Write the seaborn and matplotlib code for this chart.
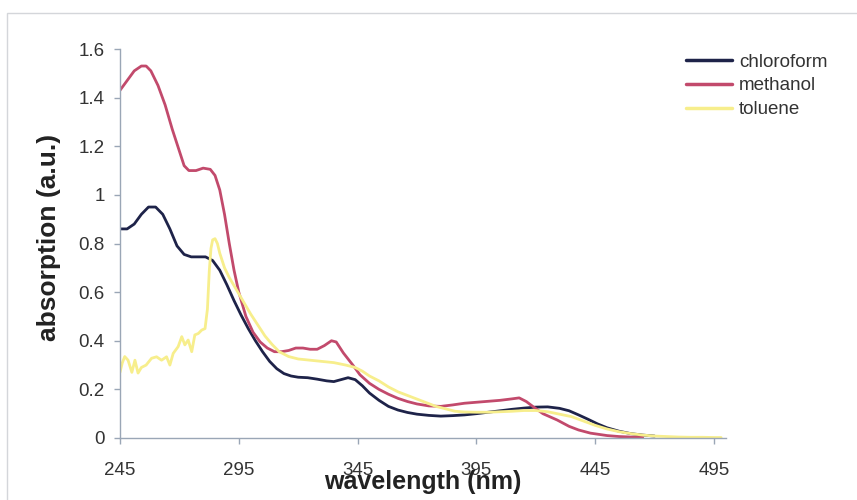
import matplotlib
matplotlib.use("Agg")
import matplotlib.pyplot as plt
from matplotlib.patches import Rectangle
import numpy as np
import pandas as pd
import seaborn as sns

# Absorption spectra of the dye in three solvents
chloroform_wl = [245, 248, 251, 254, 257, 260, 263, 266, 269, 272, 275, 278, 281, 284,
                 287, 290, 293, 296, 299, 302, 305, 308, 311, 314, 317, 320, 324, 328,
                 332, 335, 338, 341, 344, 347, 350, 354, 358, 362, 366, 370, 375, 380,
                 385, 390, 395, 400, 405, 410, 415, 420, 425, 430, 434, 438, 442, 446,
                 450, 455, 460, 465, 470]
chloroform_abs = [0.86, 0.86, 0.88, 0.92, 0.95, 0.95, 0.92, 0.86, 0.79, 0.755, 0.745, 0.745,
                  0.745, 0.73, 0.69, 0.63, 0.565, 0.505, 0.45, 0.40, 0.355, 0.315, 0.285,
                  0.265, 0.255, 0.25, 0.248, 0.242, 0.235, 0.232, 0.24, 0.248, 0.24, 0.215,
                  0.185, 0.155, 0.13, 0.115, 0.105, 0.098, 0.093, 0.09, 0.092, 0.095, 0.10,
                  0.106, 0.112, 0.118, 0.123, 0.127, 0.128, 0.122, 0.112, 0.095, 0.077,
                  0.058, 0.042, 0.028, 0.018, 0.012, 0.008]

methanol_wl = [245, 248, 251, 254, 256, 258, 261, 264, 267, 270, 272, 274, 277, 280, 283,
               285, 287, 289, 291, 293, 295, 298, 301, 304, 307, 310, 313, 316, 319, 322,
               325, 328, 331, 334, 336, 339, 343, 346, 350, 354, 358, 362, 366, 370, 375,
               380, 385, 390, 395, 400, 405, 410, 413, 416, 419, 423, 429, 434, 438, 443,
               450, 455, 460, 465]
methanol_abs = [1.43, 1.47, 1.51, 1.53, 1.53, 1.51, 1.45, 1.37, 1.27, 1.18, 1.12, 1.10,
                1.10, 1.11, 1.105, 1.08, 1.02, 0.92, 0.80, 0.69, 0.60, 0.50, 0.435, 0.395,
                0.37, 0.355, 0.355, 0.36, 0.37, 0.37, 0.365, 0.365, 0.38, 0.40, 0.395,
                0.35, 0.30, 0.26, 0.225, 0.20, 0.18, 0.163, 0.15, 0.14, 0.132, 0.13, 0.136,
                0.143, 0.147, 0.151, 0.155, 0.161, 0.165, 0.15, 0.128, 0.10, 0.074, 0.048,
                0.033, 0.02, 0.01, 0.006, 0.004, 0.003]

toluene_wl = [245, 246, 247, 248.4, 250, 251.3, 252.6, 254, 256, 258.3, 260.4, 262.5,
              264.6, 266, 267.4, 269.5, 271, 272.3, 273.7, 275.2, 276.5, 278, 279.4, 280.8,
              281.8, 282.6, 283.3, 284, 285, 286, 287, 289, 291, 294, 297, 300, 303, 306,
              309, 312, 316, 320, 325, 330, 335, 340, 344, 347, 350, 354, 358, 362, 366,
              370, 374, 378, 382, 386, 390, 395, 400, 405, 410, 415, 420, 425, 430, 435,
              440, 445, 450, 455, 460, 465, 470, 475, 480, 485, 490, 495, 498]
toluene_abs = [0.27, 0.31, 0.335, 0.32, 0.27, 0.32, 0.267, 0.29, 0.30, 0.328, 0.334, 0.32,
               0.334, 0.30, 0.348, 0.376, 0.417, 0.383, 0.403, 0.355, 0.424, 0.43, 0.444,
               0.45, 0.53, 0.69, 0.78, 0.815, 0.82, 0.80, 0.76, 0.70, 0.66, 0.61, 0.56,
               0.51, 0.465, 0.42, 0.385, 0.355, 0.335, 0.325, 0.32, 0.315, 0.31, 0.30,
               0.29, 0.275, 0.255, 0.235, 0.21, 0.19, 0.175, 0.16, 0.145, 0.13, 0.12,
               0.11, 0.107, 0.106, 0.106, 0.108, 0.11, 0.113, 0.113, 0.108, 0.098, 0.088,
               0.07, 0.052, 0.037, 0.026, 0.018, 0.012, 0.008, 0.006, 0.004, 0.003, 0.003,
               0.002, 0.002]

solvents = ["chloroform", "methanol", "toluene"]
colors = {"chloroform": "#1e2349", "methanol": "#c24a6c", "toluene": "#f7ee8c"}

x_ticks = [245, 295, 345, 395, 445, 495]
y_ticks = [0, 0.2, 0.4, 0.6, 0.8, 1, 1.2, 1.4, 1.6]
y_tick_labels = ["0", "0.2", "0.4", "0.6", "0.8", "1", "1.2", "1.4", "1.6"]

frames = []
for name, wl, ab in [("chloroform", chloroform_wl, chloroform_abs),
                     ("methanol", methanol_wl, methanol_abs),
                     ("toluene", toluene_wl, toluene_abs)]:
    frames.append(pd.DataFrame({"wavelength": wl, "absorption": ab, "solvent": name}))
df = pd.concat(frames, ignore_index=True)

sns.set_style("white")
plt.rcParams["font.family"] = ["Liberation Sans", "DejaVu Sans"]

fig = plt.figure(figsize=(8.57, 5.0), dpi=100)
ax = fig.add_axes([0.14, 0.124, 0.707, 0.778])

sns.lineplot(data=df, x="wavelength", y="absorption", hue="solvent",
             hue_order=solvents, palette=colors, sort=False, estimator=None,
             linewidth=2.0, ax=ax)

ax.set_xlim(245, 500)
ax.set_ylim(0, 1.6)
ax.set_xticks(x_ticks)
ax.set_yticks(y_ticks)
ax.set_yticklabels(y_tick_labels)

axis_grey = "#9aa6b6"
for side in ["top", "right"]:
    ax.spines[side].set_visible(False)
for side in ["left", "bottom"]:
    ax.spines[side].set_color(axis_grey)
    ax.spines[side].set_linewidth(1.0)

ax.tick_params(axis="y", direction="out", length=4, width=1, color=axis_grey,
               labelsize=13.5, labelcolor="#333333", pad=7, left=True)
ax.tick_params(axis="x", direction="out", length=4, width=1, color=axis_grey,
               labelsize=13.5, labelcolor="#333333", pad=13, bottom=True)

ax.set_xlabel("wavelength (nm)", fontsize=18, fontweight="bold", color="#222222")
ax.set_ylabel("absorption (a.u.)", fontsize=19, fontweight="bold", color="#222222")
ax.xaxis.set_label_coords(0.5, -0.082)
ax.yaxis.set_label_coords(-0.097, 0.515)

leg = ax.legend(loc="upper left", bbox_to_anchor=(0.8, 0.893),
                bbox_transform=fig.transFigure, frameon=False, fontsize=13.5,
                handlelength=2.5, handletextpad=0.35, labelspacing=0.36,
                borderaxespad=0, borderpad=0)
for line in leg.get_lines():
    line.set_linewidth(2.5)
for t in leg.get_texts():
    t.set_color("#333333")

# light outer chart border
fig.patches.append(Rectangle((7 / 857, -0.05), 1.1, 1.05 - 13 / 500,
                             transform=fig.transFigure, fill=False,
                             edgecolor="#d4d6da", linewidth=1.0, zorder=-1))

fig.savefig("out.png", dpi=100, facecolor="white")
